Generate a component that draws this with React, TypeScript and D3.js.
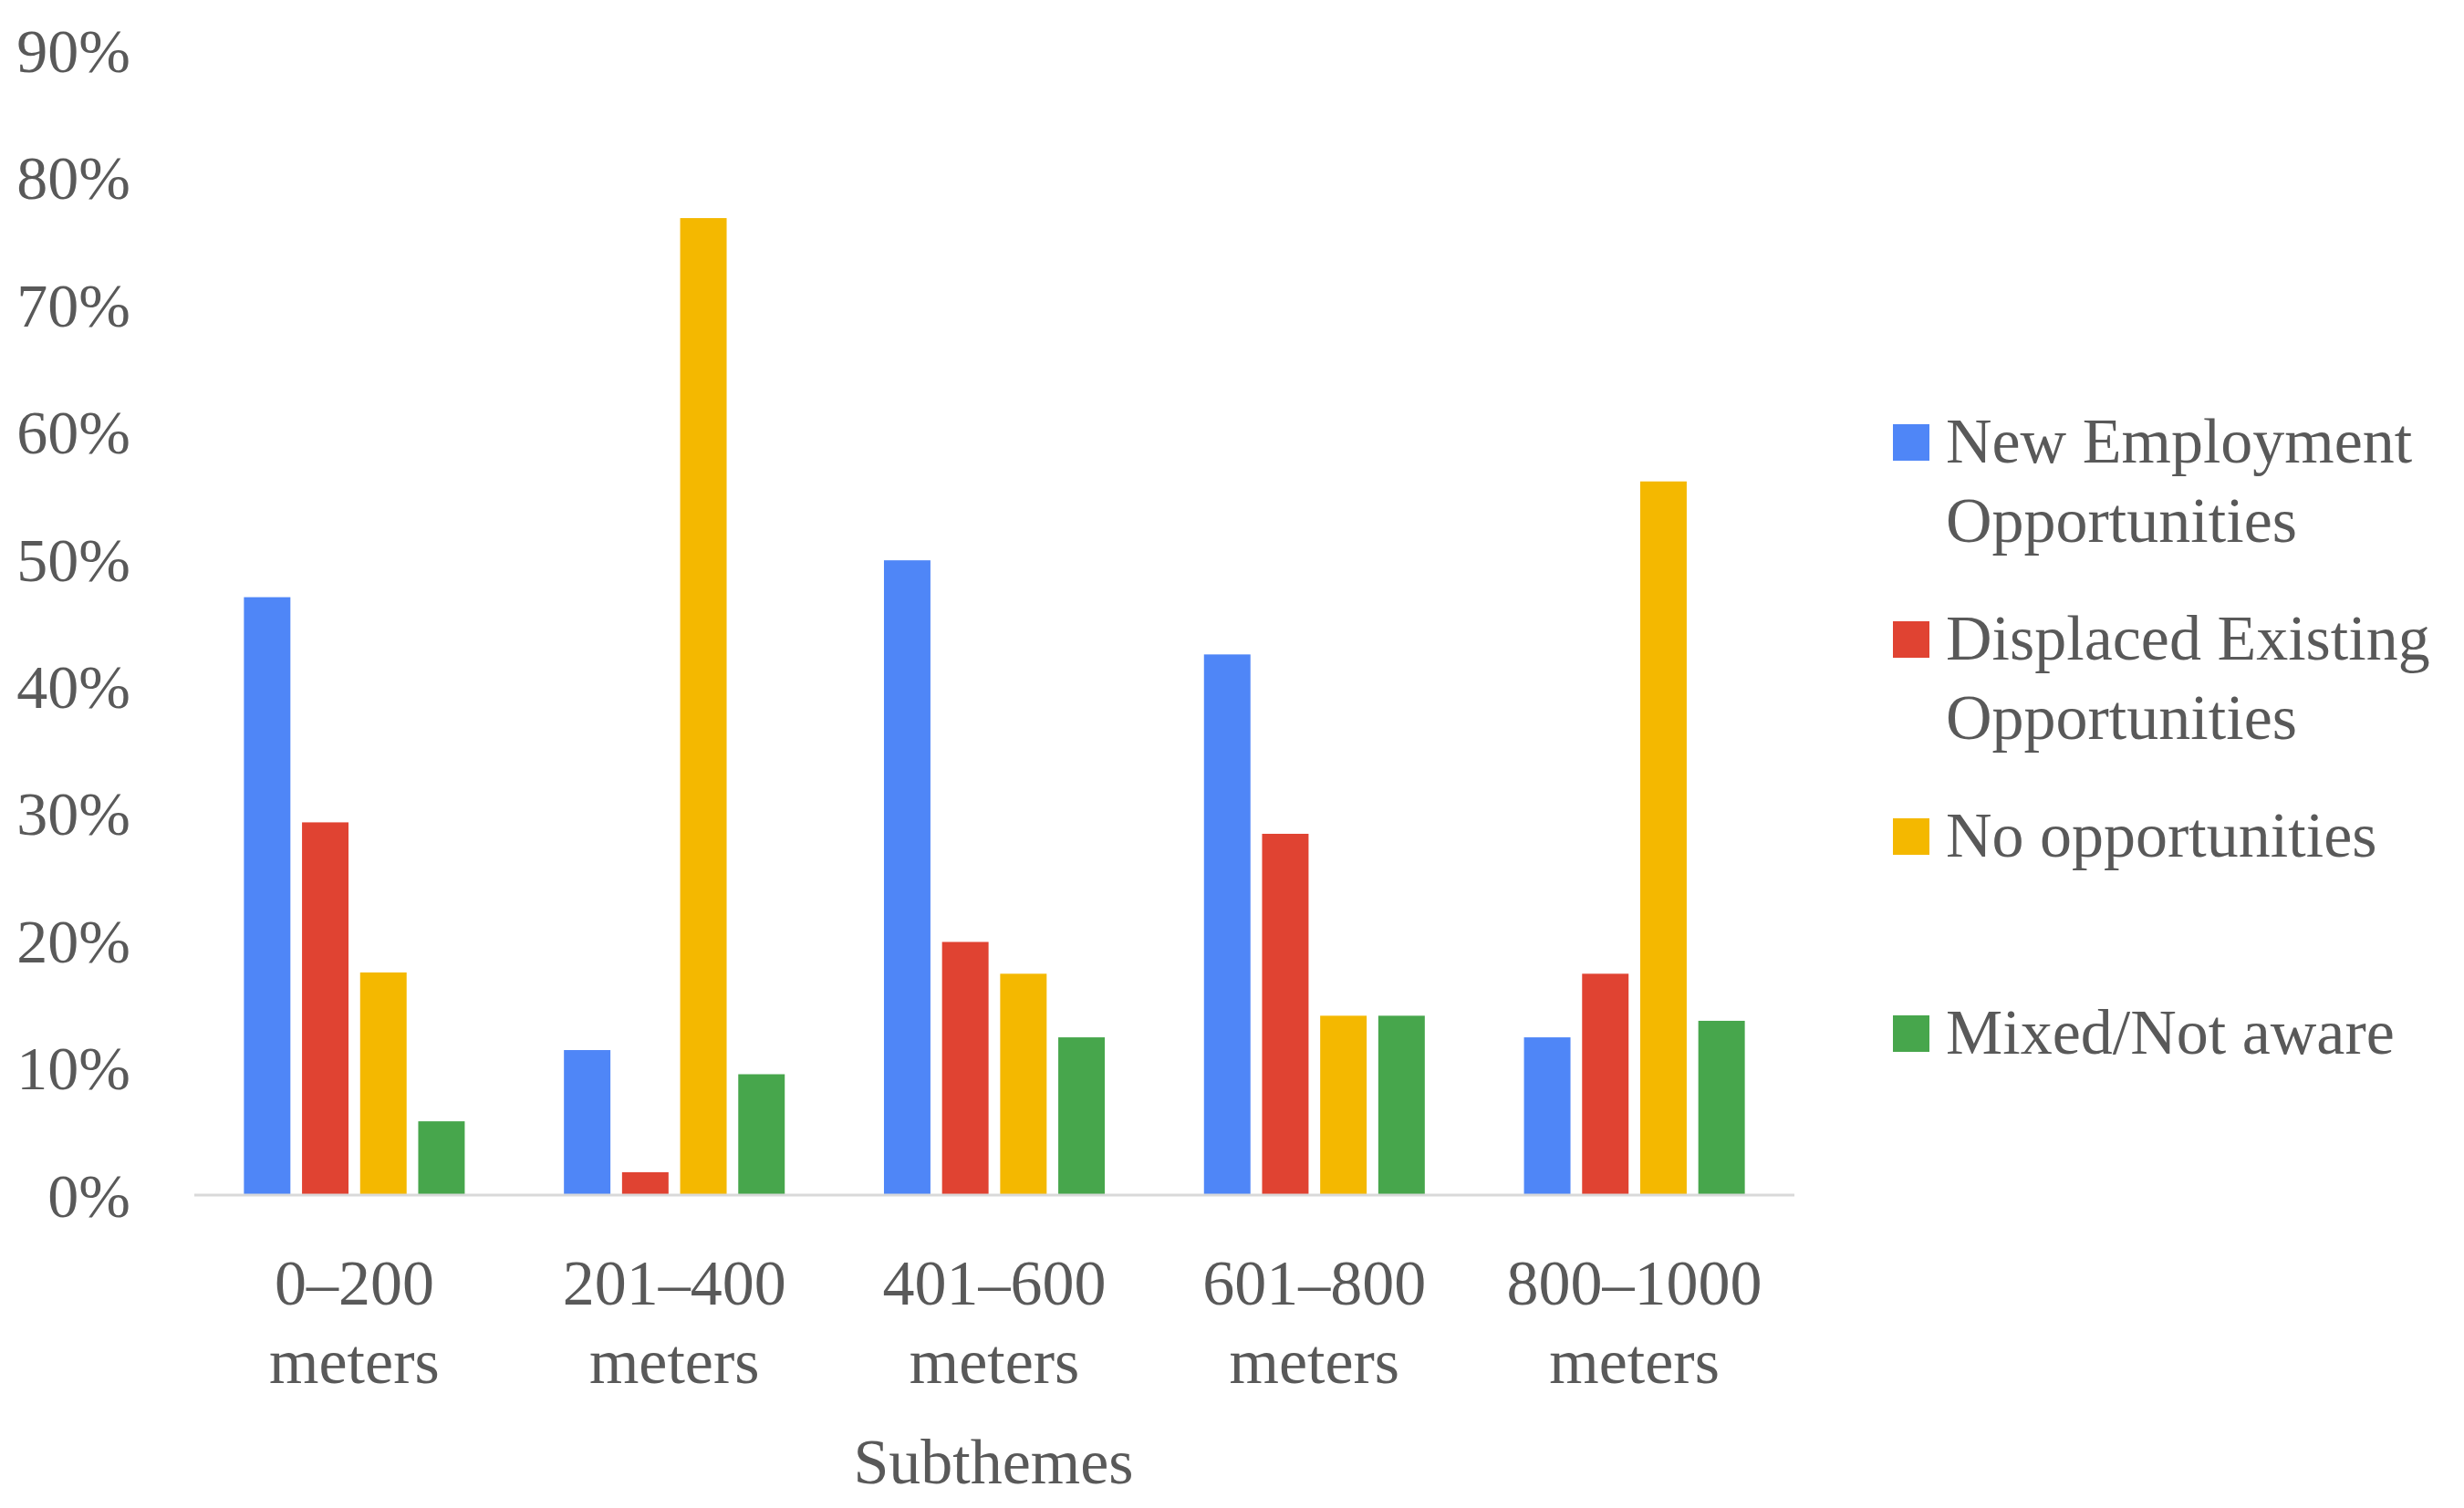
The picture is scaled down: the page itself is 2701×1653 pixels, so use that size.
import React from 'react';
import * as d3 from 'd3';

const categories = ['0–200 meters', '201–400 meters', '401–600 meters', '601–800 meters', '800–1000 meters'];
const seriesNames = [
  'New Employment Opportunities',
  'Displaced Existing Opportunities',
  'No opportunities',
  'Mixed/Not aware',
];
const newEmployment = [47, 11.4, 49.9, 42.5, 12.4];
const displacedExisting = [29.3, 1.8, 19.9, 28.4, 17.4];
const noOpportunities = [17.5, 76.8, 17.4, 14.1, 56.1];
const mixedNotAware = [5.8, 9.5, 12.4, 14.1, 13.7];
const yTicks = [0, 10, 20, 30, 40, 50, 60, 70, 80, 90];
const xTitle = 'Subthemes';

// legend text broken the way the original wraps it
const legendLines = [
  ['New Employment', 'Opportunities'],
  ['Displaced Existing', 'Opportunities'],
  ['No opportunities'],
  ['Mixed/Not aware'],
];

const series = [newEmployment, displacedExisting, noOpportunities, mixedNotAware];
const colors = ['#4F86F7', '#E04332', '#F4B800', '#47A64C'];

const W = 2701;
const H = 1653;
const plot = { left: 213, right: 1967, top: 55, bottom: 1310 };
const font = '"Liberation Serif", "Times New Roman", serif';
const textColor = '#595959';

export default function App() {
  const x0 = d3.scaleBand<string>()
    .domain(categories)
    .range([plot.left, plot.right])
    .paddingInner(0.31)
    .paddingOuter(0.155);

  const x1 = d3.scaleBand<number>()
    .domain(d3.range(series.length))
    .range([0, x0.bandwidth()])
    .paddingInner(0.2);

  const y = d3.scaleLinear()
    .domain([0, 90])
    .range([plot.bottom, plot.top]);

  const bandCenter = (c: string) => (x0(c) ?? 0) + x0.bandwidth() / 2;

  return (
    <svg
      width={W}
      height={H}
      style={{ position: 'absolute', left: 0, top: 0, background: '#fff' }}
      fontFamily={font}
    >
      {/* y tick labels */}
      {yTicks.map(t => (
        <text
          key={t}
          x={143}
          y={y(t)}
          dy="0.35em"
          textAnchor="end"
          fontSize={68}
          fill={textColor}
        >
          {t}%
        </text>
      ))}

      {/* bars */}
      {categories.map((c, ci) => (
        <g key={c} transform={`translate(${x0(c)},0)`}>
          {series.map((s, si) => (
            <rect
              key={si}
              x={x1(si)}
              y={y(s[ci])}
              width={x1.bandwidth()}
              height={y(0) - y(s[ci])}
              fill={colors[si]}
            />
          ))}
        </g>
      ))}

      {/* baseline */}
      <line
        x1={plot.left}
        x2={plot.right}
        y1={y(0)}
        y2={y(0)}
        stroke="#D9D9D9"
        strokeWidth={3}
      />

      {/* category labels, two lines each */}
      {categories.map(c => {
        const parts = c.split(' ');
        return (
          <text key={c} textAnchor="middle" fontSize={70} fill={textColor}>
            <tspan x={bandCenter(c)} y={1430}>{parts[0]}</tspan>
            <tspan x={bandCenter(c)} y={1516}>{parts[1]}</tspan>
          </text>
        );
      })}

      <text x={1089} y={1626} textAnchor="middle" fontSize={70} fill={textColor}>
        {xTitle}
      </text>

      {/* legend */}
      {seriesNames.map((name, i) => {
        const top = 465 + i * 216;
        return (
          <g key={name}>
            <rect x={2075} y={top} width={40} height={40} fill={colors[i]} />
            <text fontSize={70} fill={textColor}>
              {legendLines[i].map((line, li) => (
                <tspan key={li} x={2133} y={top + 42 + li * 87}>{line}</tspan>
              ))}
            </text>
          </g>
        );
      })}
    </svg>
  );
}
